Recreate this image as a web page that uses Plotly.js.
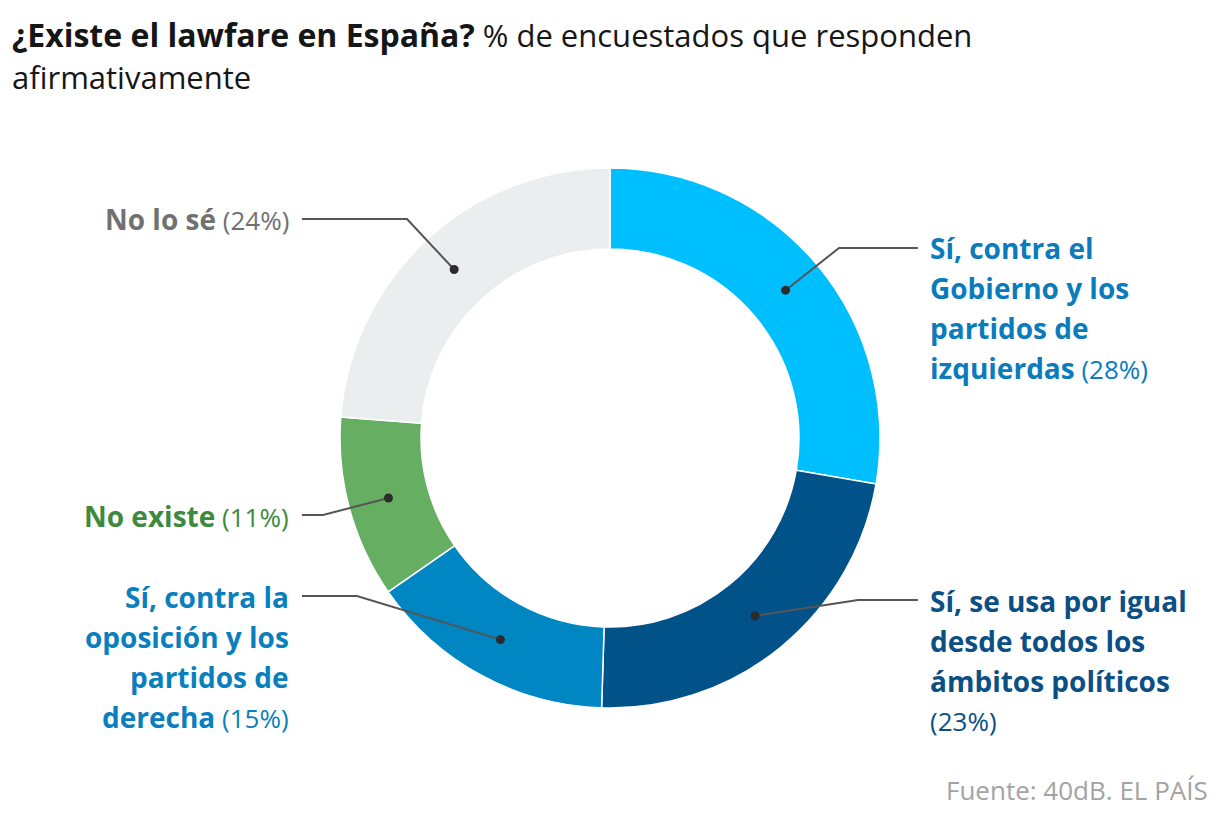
<!DOCTYPE html>
<html>
<head>
<meta charset="utf-8">
<script src="https://cdn.plot.ly/plotly-3.0.1.min.js"></script>
<style>html,body{margin:0;padding:0;background:#fff;}#chart{width:1220px;height:820px;}</style>
</head>
<body>
<div id="chart"></div>
<script>
// ---- data ----
const categories = [
  "Sí, contra el Gobierno y los partidos de izquierdas",
  "Sí, se usa por igual desde todos los ámbitos políticos",
  "Sí, contra la oposición y los partidos de derecha",
  "No existe",
  "No lo sé"
];
const values = [28, 23, 15, 11, 24];
const labelBold = [
  ["Sí, contra el", "Gobierno y los", "partidos de", "izquierdas"],
  ["Sí, se usa por igual", "desde todos los", "ámbitos políticos"],
  ["Sí, contra la", "oposición y los", "partidos de", "derecha"],
  ["No existe"],
  ["No lo sé"]
];
const labelPct = ["(28%)", "(23%)", "(15%)", "(11%)", "(24%)"];
const pctOwnLine = [false, true, false, false, false];
const titleBold = "¿Existe el lawfare en España?";
const titleRest = "% de encuestados que responden";
const titleLine2 = "afirmativamente";
const source = "Fuente: 40dB. EL PAÍS";

// ---- styles / layout constants ----
const sliceColors = ["#00BFFF", "#005289", "#0086C3", "#66AE62", "#EBEEEF"];
const textColors = ["#0a7bbb", "#0b4f85", "#0a7fbd", "#3b8a3d", "#6f7172"];
const W = 1220, H = 820, cx = 610, cy = 438, R = 270, hole = 0.70;
const dotR = R * (1 + hole) / 2;
// label placement: [side, textX, firstLineY, elbowX, elbowY, lineEndX]
const place = [
  ["right", 928, 248, 839, 248, 918],
  ["right", 928, 601, 858, 600, 918],
  ["left", 291, 597, 357, 596, 302],
  ["left", 291, 516, 323, 515, 302],
  ["left", 291, 219, 407, 219, 302]
];
const lineGap = 40;
const FONT = "'Open Sans', Roboto, sans-serif";
const boldSpan = (s, px) => "<span style=\"font-size:" + px + "px\"><b>" + s + "</b></span>";

const total = values.reduce((a, b) => a + b, 0);
let cum = 0;
const traces = [];
const annotations = [];
const shapes = [];

traces.push({
  type: "pie",
  values: values,
  labels: categories,
  sort: false,
  direction: "clockwise",
  rotation: 0,
  hole: hole,
  marker: {colors: sliceColors, line: {color: "#ffffff", width: 1.5}},
  textinfo: "none",
  hoverinfo: "label+value",
  showlegend: false,
  domain: {x: [(cx - R) / W, (cx + R) / W], y: [(H - cy - R) / H, (H - cy + R) / H]}
});
// invisible trace to keep cartesian axes for shapes/annotations
traces.push({type: "scatter", x: [0, W], y: [0, H], mode: "markers",
  marker: {opacity: 0}, hoverinfo: "skip", showlegend: false});

values.forEach((v, i) => {
  const mid = (cum + v / 2) / total * 2 * Math.PI;
  cum += v;
  const dx = cx + dotR * Math.sin(mid);
  const dy = cy - dotR * Math.cos(mid);
  const p = place[i];
  shapes.push({
    type: "path", xref: "x", yref: "y", layer: "above",
    path: "M" + dx + "," + dy + " L" + p[3] + "," + p[4] + " L" + p[5] + "," + p[4],
    line: {color: "#555555", width: 2}
  });
  shapes.push({
    type: "circle", xref: "x", yref: "y", layer: "above",
    x0: dx - 4.5, x1: dx + 4.5, y0: dy - 4.5, y1: dy + 4.5,
    fillcolor: "#2b2b2b", line: {width: 0}
  });
  const lines = labelBold[i].map(s => boldSpan(s, 28));
  if (pctOwnLine[i]) lines.push(labelPct[i]);
  else lines[lines.length - 1] += " " + labelPct[i];
  lines.forEach((txt, k) => {
    annotations.push({
      xref: "x", yref: "y", x: p[1], y: p[2] + k * lineGap,
      xanchor: p[0] === "right" ? "left" : "right", yanchor: "middle",
      text: txt, showarrow: false,
      font: {family: FONT, size: 26, color: textColors[i]}
    });
  });
});

annotations.push({
  xref: "x", yref: "y", x: 10, y: 34, xanchor: "left", yanchor: "middle",
  text: boldSpan(titleBold, 32) + " " + titleRest, showarrow: false,
  font: {family: FONT, size: 31, color: "#161616"}
});
annotations.push({
  xref: "x", yref: "y", x: 10, y: 77, xanchor: "left", yanchor: "middle",
  text: titleLine2, showarrow: false,
  font: {family: FONT, size: 31, color: "#161616"}
});
annotations.push({
  xref: "x", yref: "y", x: 1210, y: 790, xanchor: "right", yanchor: "middle",
  text: source, showarrow: false,
  font: {family: FONT, size: 26, color: "#a3a3a3"}
});

const layout = {
  width: W, height: H,
  margin: {l: 0, r: 0, t: 0, b: 0},
  paper_bgcolor: "#ffffff", plot_bgcolor: "rgba(0,0,0,0)",
  xaxis: {range: [0, W], visible: false, fixedrange: true},
  yaxis: {range: [H, 0], visible: false, fixedrange: true},
  annotations: annotations,
  shapes: shapes,
  showlegend: false
};

Plotly.newPlot("chart", traces, layout, {displayModeBar: false, staticPlot: true});
</script>
</body>
</html>
